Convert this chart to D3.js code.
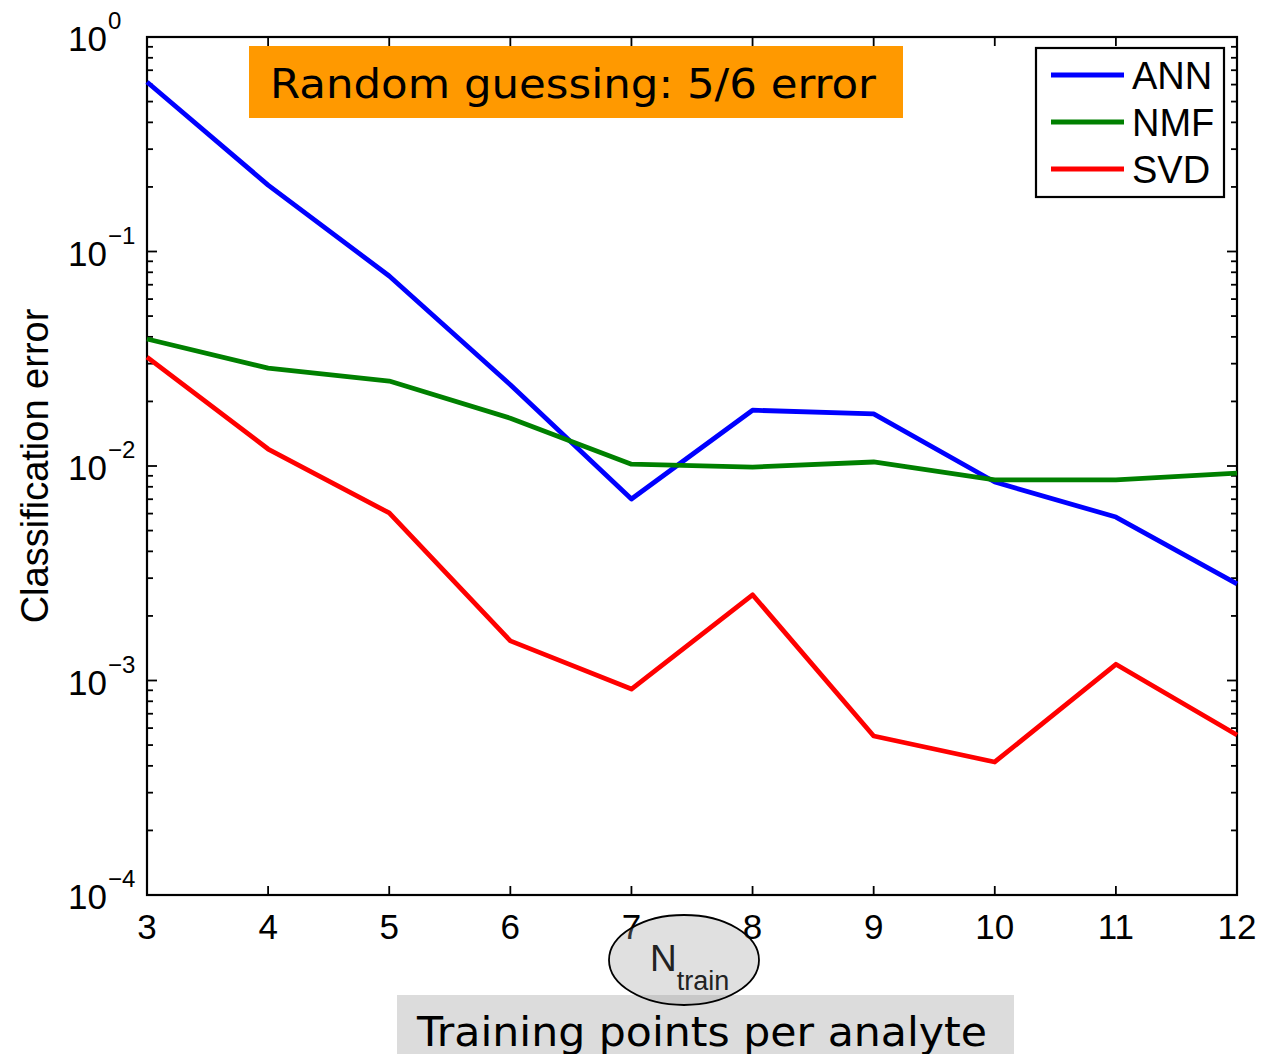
<!DOCTYPE html>
<html>
<head>
<meta charset="utf-8">
<script src="https://cdn.jsdelivr.net/npm/d3@7"></script>
<style>
  html, body { margin: 0; padding: 0; background: #fff; }
  svg { display: block; }
</style>
</head>
<body>
<svg id="chart" width="1263" height="1054"></svg>
<script>
// Training points per analyte
const nTrain = [3, 4, 5, 6, 7, 8, 9, 10, 11, 12];

// Classification error per method
const annError = [0.617, 0.204, 0.0769, 0.0239, 0.00702, 0.0182, 0.0175, 0.00842, 0.00578, 0.00282];
const nmfError = [0.0391, 0.0286, 0.0249, 0.0167, 0.0102, 0.00989, 0.01044, 0.00861, 0.00861, 0.00927];
const svdError = [0.0322, 0.0120, 0.00604, 0.00153, 0.000912, 0.00251, 0.000551, 0.000417, 0.00119, 0.000557];

const seriesNames = ["ANN", "NMF", "SVD"];
const seriesColors = ["#0000ff", "#008000", "#ff0000"];
const yDecades = [0, -1, -2, -3, -4];

(function draw() {
  const series = [annError, nmfError, svdError].map((vals, i) => ({
    name: seriesNames[i],
    color: seriesColors[i],
    values: vals.map((v, j) => ({ x: nTrain[j], y: v }))
  }));

  const svg = d3.select("#chart");
  const pl = 147, pr = 1237, pt = 37, pb = 895;

  const x = d3.scaleLinear().domain([3, 12]).range([pl, pr]);
  const y = d3.scaleLog().domain([1e-4, 1]).range([pb, pt]);

  const sans = "'Liberation Sans', Arial, Helvetica, sans-serif";
  const verdana = "'DejaVu Sans', Verdana, sans-serif";

  // Log-scale tick positions: majors at decades, minors at 2..9
  const minorTicks = [];
  for (let d = -4; d < 0; d++) {
    for (let k = 2; k <= 9; k++) minorTicks.push(k * Math.pow(10, d));
  }
  const majorTicks = yDecades.map(d => Math.pow(10, d));

  const axes = svg.append("g").attr("stroke", "#000").attr("stroke-width", 2.2).attr("fill", "none");

  // Inward ticks on all four sides
  const tickG = axes.append("g").attr("stroke-width", 1.8);
  majorTicks.forEach(v => {
    tickG.append("line").attr("x1", pl).attr("x2", pl + 10).attr("y1", y(v)).attr("y2", y(v));
    tickG.append("line").attr("x1", pr).attr("x2", pr - 10).attr("y1", y(v)).attr("y2", y(v));
  });
  minorTicks.forEach(v => {
    tickG.append("line").attr("x1", pl).attr("x2", pl + 6).attr("y1", y(v)).attr("y2", y(v));
    tickG.append("line").attr("x1", pr).attr("x2", pr - 6).attr("y1", y(v)).attr("y2", y(v));
  });
  nTrain.forEach(v => {
    tickG.append("line").attr("x1", x(v)).attr("x2", x(v)).attr("y1", pb).attr("y2", pb - 9);
    tickG.append("line").attr("x1", x(v)).attr("x2", x(v)).attr("y1", pt).attr("y2", pt + 9);
  });

  // Data lines
  const line = d3.line().x(d => x(d.x)).y(d => y(d.y));
  svg.append("g").selectAll("path")
    .data(series)
    .join("path")
    .attr("d", d => line(d.values))
    .attr("fill", "none")
    .attr("stroke", d => d.color)
    .attr("stroke-width", 4.8)
    .attr("stroke-linejoin", "round");

  // Frame
  axes.append("rect")
    .attr("x", pl).attr("y", pt)
    .attr("width", pr - pl).attr("height", pb - pt);

  // X tick labels
  svg.append("g").selectAll("text")
    .data(nTrain)
    .join("text")
    .attr("x", d => x(d))
    .attr("y", 939)
    .attr("text-anchor", "middle")
    .attr("font-family", sans)
    .attr("font-size", 35)
    .text(d => d);

  // Y tick labels as powers of ten
  const yl = svg.append("g").attr("font-family", sans);
  yDecades.forEach(d => {
    const t = yl.append("text")
      .attr("x", 68)
      .attr("y", y(Math.pow(10, d)) + 14)
      .attr("font-size", 35);
    t.append("tspan").text("10");
    t.append("tspan")
      .attr("dy", -22)
      .attr("dx", 1)
      .attr("font-size", 24)
      .text(d === 0 ? "0" : "\u2212" + Math.abs(d));
  });

  // Y axis title
  svg.append("text")
    .attr("transform", `translate(48, ${(pt + pb) / 2}) rotate(-90)`)
    .attr("text-anchor", "middle")
    .attr("font-family", sans)
    .attr("font-size", 38)
    .text("Classification error");

  // Legend
  const lg = svg.append("g");
  lg.append("rect")
    .attr("x", 1036).attr("y", 48)
    .attr("width", 188).attr("height", 149)
    .attr("fill", "#fff").attr("stroke", "#000").attr("stroke-width", 2.2);
  series.forEach((s, i) => {
    const ly = 75 + i * 47;
    lg.append("line")
      .attr("x1", 1051).attr("x2", 1124)
      .attr("y1", ly).attr("y2", ly)
      .attr("stroke", s.color).attr("stroke-width", 4.8);
    lg.append("text")
      .attr("x", 1132).attr("y", ly + 14)
      .attr("font-family", sans).attr("font-size", 38)
      .text(s.name);
  });

  // Random-guessing annotation
  svg.append("rect")
    .attr("x", 249).attr("y", 46)
    .attr("width", 654).attr("height", 72)
    .attr("fill", "#ff9900");
  svg.append("text")
    .attr("x", 270).attr("y", 98)
    .attr("font-family", verdana)
    .attr("font-size", 41)
    .attr("textLength", 606)
    .attr("lengthAdjust", "spacingAndGlyphs")
    .text("Random guessing: 5/6 error");

  // X axis title band
  svg.append("rect")
    .attr("x", 397).attr("y", 995)
    .attr("width", 617).attr("height", 70)
    .attr("fill", "#dcdcdc");
  svg.append("text")
    .attr("x", 417).attr("y", 1046)
    .attr("font-family", verdana)
    .attr("font-size", 41)
    .attr("textLength", 570)
    .attr("lengthAdjust", "spacingAndGlyphs")
    .text("Training points per analyte");

  // N_train bubble
  svg.append("ellipse")
    .attr("cx", 684).attr("cy", 960)
    .attr("rx", 75).attr("ry", 45)
    .attr("fill", "rgba(160,160,160,0.33)")
    .attr("stroke", "#000").attr("stroke-width", 1.8);
  const nt = svg.append("text")
    .attr("x", 650).attr("y", 971)
    .attr("font-family", sans)
    .attr("font-size", 37)
    .attr("fill", "#222");
  nt.append("tspan").text("N");
  nt.append("tspan").attr("dy", 19).attr("font-size", 27).text("train");
})();
</script>
</body>
</html>
